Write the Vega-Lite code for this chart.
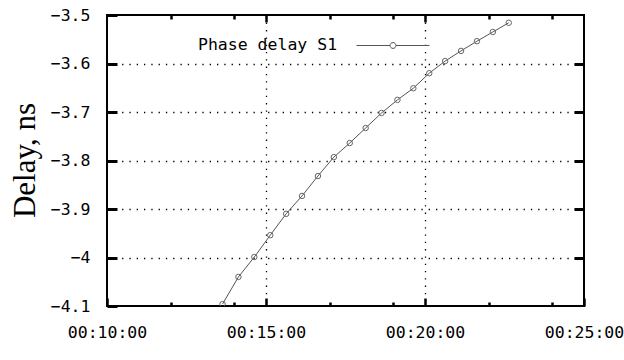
{
  "$schema": "https://vega.github.io/schema/vega-lite/v6.json",
  "autosize": "none",
  "padding": {"left": 107, "top": 15, "right": 40, "bottom": 54},
  "width": 477,
  "height": 291,
  "background": "white",
  "config": {
    "view": {"stroke": "black", "strokeWidth": 2},
    "axis": {"domain": false, "ticks": true, "labelFont": "DejaVu Sans Mono", "labelFontSize": 16.5, "labelColor": "black", "tickColor": "black"}
  },
  "data": {
    "values": [
      {"time": "1970-01-01T00:13:38Z", "delay": -4.096},
      {"time": "1970-01-01T00:14:08Z", "delay": -4.040},
      {"time": "1970-01-01T00:14:38Z", "delay": -3.999},
      {"time": "1970-01-01T00:15:08Z", "delay": -3.954},
      {"time": "1970-01-01T00:15:38Z", "delay": -3.910},
      {"time": "1970-01-01T00:16:08Z", "delay": -3.873},
      {"time": "1970-01-01T00:16:38Z", "delay": -3.832},
      {"time": "1970-01-01T00:17:08Z", "delay": -3.793},
      {"time": "1970-01-01T00:17:38Z", "delay": -3.764},
      {"time": "1970-01-01T00:18:08Z", "delay": -3.733},
      {"time": "1970-01-01T00:18:38Z", "delay": -3.702},
      {"time": "1970-01-01T00:19:08Z", "delay": -3.675},
      {"time": "1970-01-01T00:19:38Z", "delay": -3.651},
      {"time": "1970-01-01T00:20:08Z", "delay": -3.620},
      {"time": "1970-01-01T00:20:38Z", "delay": -3.595},
      {"time": "1970-01-01T00:21:08Z", "delay": -3.574},
      {"time": "1970-01-01T00:21:38Z", "delay": -3.554},
      {"time": "1970-01-01T00:22:08Z", "delay": -3.535},
      {"time": "1970-01-01T00:22:38Z", "delay": -3.516}
    ]
  },
  "layer": [
    {
      "mark": {"type": "line", "strokeWidth": 1, "clip": true, "point": {"shape": "circle", "filled": false, "size": 30, "strokeWidth": 1, "stroke": "#666"}},
      "encoding": {
        "x": {
          "field": "time", "type": "temporal",
          "scale": {"type": "utc", "domain": [{"year": 1970, "month": 1, "date": 1, "hours": 0, "minutes": 10, "utc": true}, {"year": 1970, "month": 1, "date": 1, "hours": 0, "minutes": 25, "utc": true}], "nice": false},
          "axis": {
            "orient": "bottom",
            "title": null,
            "values": [
              {"year": 1970, "month": 1, "date": 1, "hours": 0, "minutes": 10, "utc": true},
              {"year": 1970, "month": 1, "date": 1, "hours": 0, "minutes": 15, "utc": true},
              {"year": 1970, "month": 1, "date": 1, "hours": 0, "minutes": 20, "utc": true},
              {"year": 1970, "month": 1, "date": 1, "hours": 0, "minutes": 25, "utc": true}
            ],
            "format": "%H:%M:%S",
            "labelFlush": false,
            "labelOverlap": false,
            "offset": -8,
            "tickSize": 8,
            "labelPadding": 18,
            "tickWidth": 2.5,
            "grid": true,
            "gridColor": "black",
            "gridWidth": 1.3,
            "gridDash": [1.3, 6],
            "gridOpacity": {"condition": {"test": "utcminutes(datum.value) == 15 || utcminutes(datum.value) == 20", "value": 1}, "value": 0}
          }
        },
        "y": {
          "field": "delay", "type": "quantitative",
          "scale": {"domain": [-4.1, -3.5], "nice": false, "zero": false},
          "axis": {
            "orient": "left",
            "title": "Delay, ns",
            "titleFont": "Liberation Serif",
            "titleFontSize": 31,
            "titleFontWeight": "normal",
            "titleColor": "black",
            "titleX": -92,
            "titleY": 145,
            "titleAngle": -90,
            "titleBaseline": "middle",
            "titleAlign": "center",
            "values": [-4.1, -4.0, -3.9, -3.8, -3.7, -3.6, -3.5],
            "format": "~g",
            "offset": -10,
            "tickSize": 10,
            "labelPadding": 17,
            "tickWidth": 3,
            "grid": true,
            "gridColor": "black",
            "gridWidth": 1.3,
            "gridDash": [1.3, 6],
            "gridOpacity": {"condition": {"test": "datum.value > -4.05 && datum.value < -3.55", "value": 1}, "value": 0}
          }
        },
        "color": {
          "datum": "Phase delay S1",
          "scale": {"range": ["#555555"]},
          "legend": {
            "orient": "none",
            "legendX": 91,
            "legendY": -6.5,
            "title": "Phase delay S1",
            "titleOrient": "left",
            "titleAnchor": "middle",
            "titleFont": "DejaVu Sans Mono",
            "titleFontSize": 16.5,
            "titleFontWeight": "normal",
            "titleColor": "black",
            "titleBaseline": "line-top",
            "titleLineHeight": 30,
            "titlePadding": 18,
            "labelExpr": "''",
            "symbolType": "M-1,0L-0.08,0M0.08,0L1,0M-0.08,0A0.08,0.08,0,1,1,0.08,0A0.08,0.08,0,1,1,-0.08,0",
            "symbolSize": 5329,
            "symbolStrokeWidth": 1,
            "symbolStrokeColor": "#555555",
            "symbolFillColor": "transparent",
            "symbolOffset": 0,
            "padding": 0
          }
        }
      }
    },
    {
      "mark": {"type": "point", "opacity": 0},
      "encoding": {
        "x": {
          "field": "time", "type": "temporal",
          "axis": {
            "orient": "top",
            "title": null,
            "labels": false,
            "grid": false,
            "values": [
              {"year": 1970, "month": 1, "date": 1, "hours": 0, "minutes": 15, "utc": true},
              {"year": 1970, "month": 1, "date": 1, "hours": 0, "minutes": 20, "utc": true}
            ],
            "offset": -7,
            "tickSize": 7,
            "tickWidth": 2.5
          }
        },
        "y": {
          "field": "delay", "type": "quantitative",
          "axis": {
            "orient": "right",
            "title": null,
            "labels": false,
            "grid": false,
            "values": [-4.0, -3.9, -3.8, -3.7, -3.6],
            "offset": -10,
            "tickSize": 10,
            "tickWidth": 3
          }
        }
      }
    },
    {
      "mark": {"type": "point", "opacity": 0},
      "encoding": {
        "x": {
          "field": "time", "type": "temporal",
          "axis": {
            "orient": "bottom",
            "title": null,
            "labels": false,
            "grid": false,
            "values": [
              {"year": 1970, "month": 1, "date": 1, "hours": 0, "minutes": 12, "utc": true},
              {"year": 1970, "month": 1, "date": 1, "hours": 0, "minutes": 14, "utc": true},
              {"year": 1970, "month": 1, "date": 1, "hours": 0, "minutes": 17, "utc": true},
              {"year": 1970, "month": 1, "date": 1, "hours": 0, "minutes": 19, "utc": true},
              {"year": 1970, "month": 1, "date": 1, "hours": 0, "minutes": 22, "utc": true},
              {"year": 1970, "month": 1, "date": 1, "hours": 0, "minutes": 24, "utc": true}
            ],
            "offset": -4,
            "tickSize": 4,
            "tickWidth": 2.5
          }
        }
      }
    },
    {
      "mark": {"type": "point", "opacity": 0},
      "encoding": {
        "x": {
          "field": "time", "type": "temporal",
          "axis": {
            "orient": "top",
            "title": null,
            "labels": false,
            "grid": false,
            "values": [
              {"year": 1970, "month": 1, "date": 1, "hours": 0, "minutes": 12, "utc": true},
              {"year": 1970, "month": 1, "date": 1, "hours": 0, "minutes": 14, "utc": true},
              {"year": 1970, "month": 1, "date": 1, "hours": 0, "minutes": 17, "utc": true},
              {"year": 1970, "month": 1, "date": 1, "hours": 0, "minutes": 19, "utc": true},
              {"year": 1970, "month": 1, "date": 1, "hours": 0, "minutes": 22, "utc": true},
              {"year": 1970, "month": 1, "date": 1, "hours": 0, "minutes": 24, "utc": true}
            ],
            "offset": -4,
            "tickSize": 4,
            "tickWidth": 2.5
          }
        }
      }
    }
  ],
  "resolve": {"axis": {"x": "independent", "y": "independent"}}
}
